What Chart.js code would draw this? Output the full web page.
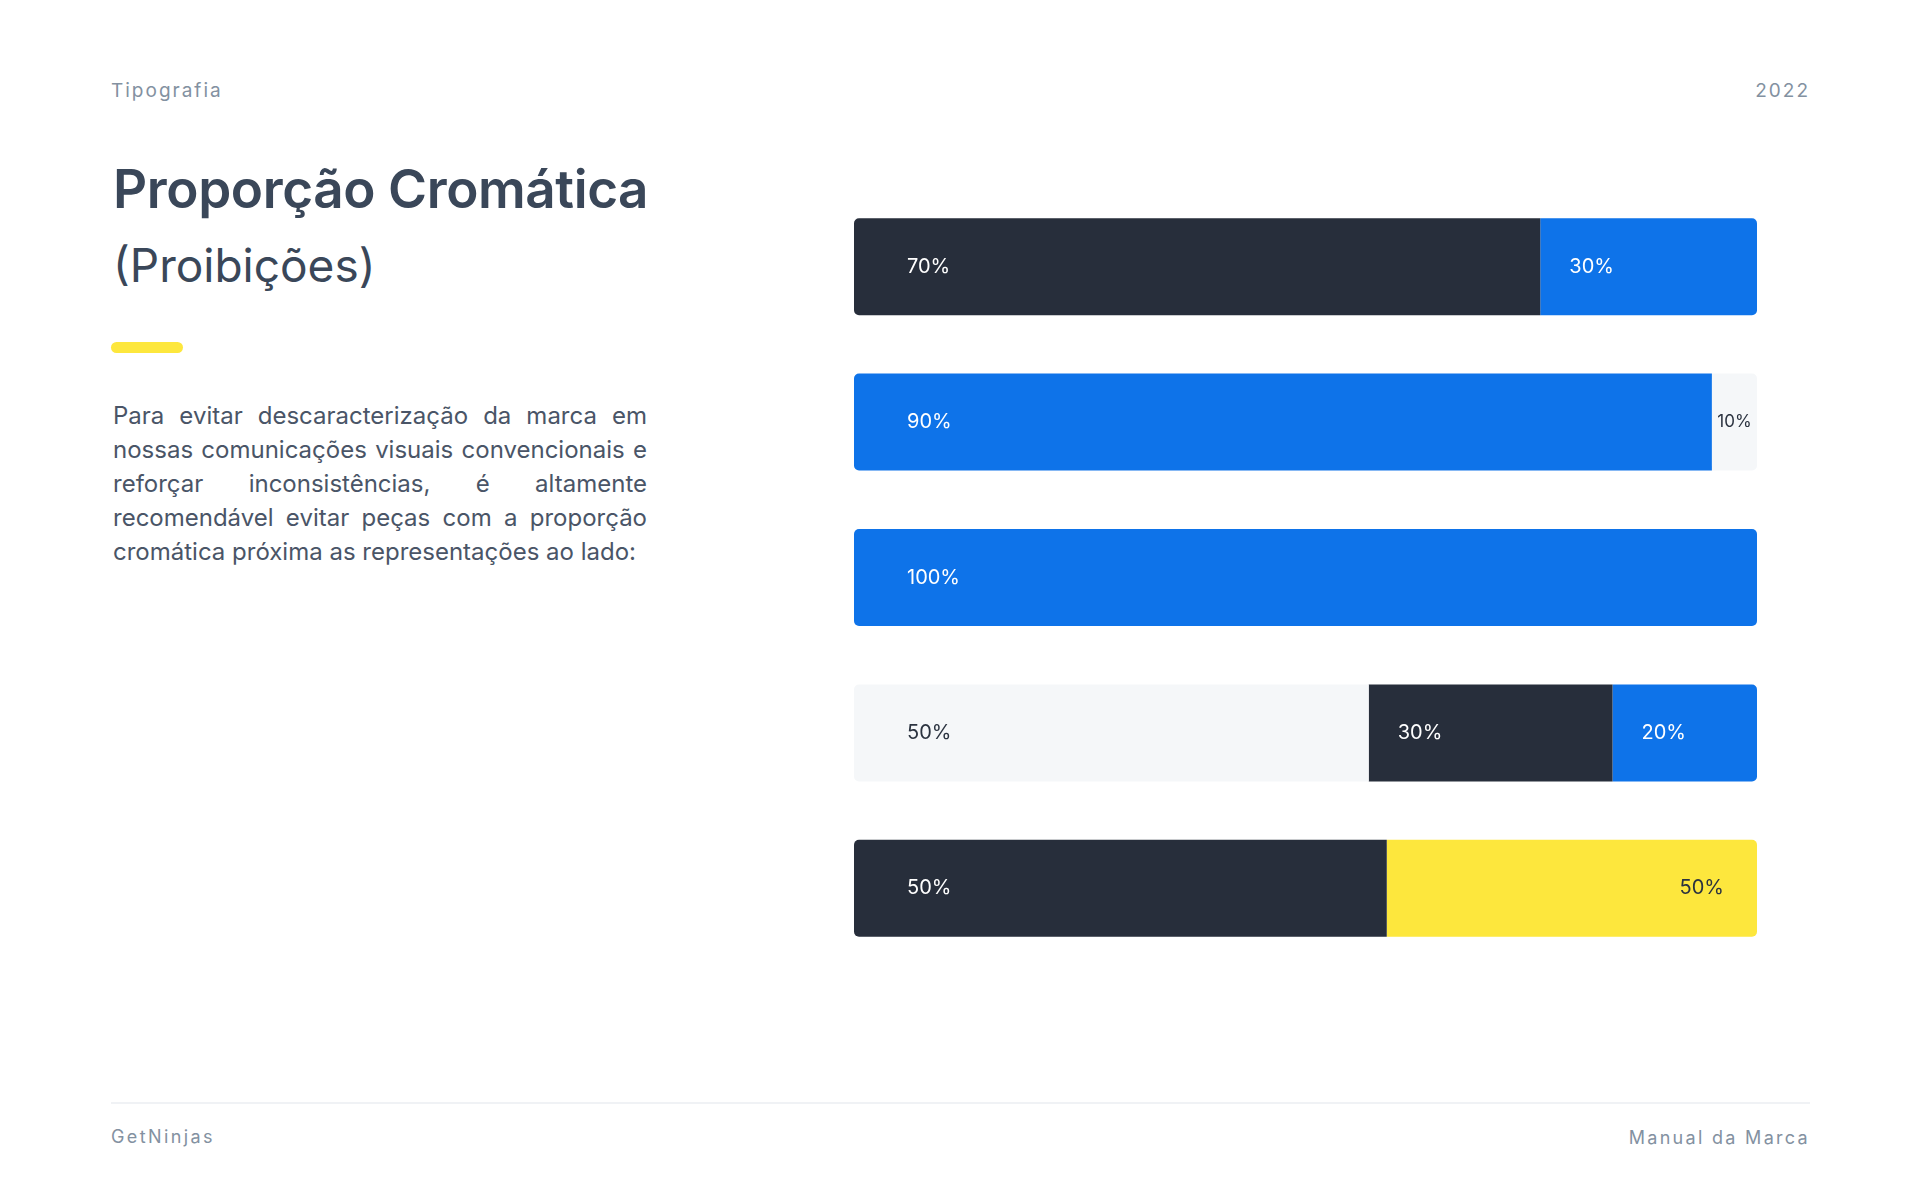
<!DOCTYPE html>
<html>
<head>
<meta charset="utf-8">
<script src="https://cdn.jsdelivr.net/npm/chart.js@4.4.1/dist/chart.umd.min.js"></script>
<style>
  html, body { margin: 0; padding: 0; background: #ffffff; }
  body { width: 1920px; height: 1200px; position: relative; overflow: hidden; font-family: Inter, "Noto Sans", sans-serif; }
  .abs { position: absolute; white-space: nowrap; }
  .meta { font-size: 19px; line-height: 1; color: #8391a1; letter-spacing: 2px; }
  #title { left: 113px; top: 163px; font-size: 53px; line-height: 1; font-weight: 600; color: #3a4759; letter-spacing: -0.4px; }
  #subtitle { left: 113px; top: 242px; font-size: 46px; line-height: 1; font-weight: 400; color: #3a4759; }
  #accent { left: 111px; top: 342px; width: 72px; height: 11px; border-radius: 6px; background: #fde73d; }
  #para { left: 113px; top: 399px; width: 534px; font-size: 24px; line-height: 34px; color: #4a5567; text-align: justify; white-space: normal; }
  #rule { left: 111px; top: 1102px; width: 1699px; height: 2px; background: #f0f2f5; }
  #chartBox { position: absolute; left: 854px; top: 189px; width: 903px; height: 777px; }
</style>
</head>
<body>
<div class="abs meta" style="left:111px; top:81px;">Tipografia</div>
<div class="abs meta" style="right:110px; top:81px;">2022</div>
<div class="abs" id="title">Proporção Cromática</div>
<div class="abs" id="subtitle">(Proibições)</div>
<div class="abs" id="accent"></div>
<div class="abs" id="para">Para evitar descaracterização da marca em nossas comunicações visuais convencionais e reforçar inconsistências, é altamente recomendável evitar peças com a proporção cromática próxima as representações ao lado:</div>
<div class="abs" id="rule"></div>
<div class="abs meta" style="left:111px; top:1128px; font-size:18px; letter-spacing:2.4px;">GetNinjas</div>
<div class="abs meta" style="right:110px; top:1129px; font-size:18px; letter-spacing:2.3px;">Manual da Marca</div>
<div id="chartBox"><canvas id="c"></canvas></div>
<script>
// ---- data (segment widths as drawn, and their printed labels) ----
const categories = ['Barra 1', 'Barra 2', 'Barra 3', 'Barra 4', 'Barra 5'];
const segment1 = [76, 95, 100, 57, 59];
const segment2 = [24, 5, 0, 27, 41];
const segment3 = [0, 0, 0, 16, 0];
const labels1 = ['70%', '90%', '100%', '50%', '50%'];
const labels2 = ['30%', '10%', '', '30%', '50%'];
const labels3 = ['', '', '', '20%', ''];

// ---- styles ----
const DARK = '#272e3b', BLUE = '#0e73e9', LIGHT = '#f5f7f9', YELLOW = '#fde73d';
const colors1 = [DARK, BLUE, BLUE, LIGHT, DARK];
const colors2 = [BLUE, LIGHT, BLUE, DARK, YELLOW];
const colors3 = [BLUE, BLUE, BLUE, BLUE, BLUE];
const textOn = c => (c === LIGHT || c === YELLOW) ? '#2b3340' : '#ffffff';

const segs = [segment1, segment2, segment3];
function radiusFor(ctx) {
  const i = ctx.dataIndex, d = ctx.datasetIndex;
  let first = -1, last = -1;
  segs.forEach((s, k) => { if (s[i] > 0) { if (first < 0) first = k; last = k; } });
  const r = 5;
  return {
    topLeft: d === first ? r : 0,
    bottomLeft: d === first ? r : 0,
    topRight: d === last ? r : 0,
    bottomRight: d === last ? r : 0
  };
}

const segLabels = {
  id: 'segLabels',
  afterDatasetsDraw(chart, args, opts) {
    const ctx = chart.ctx;
    ctx.save();
    ctx.textBaseline = 'middle';
    chart.data.datasets.forEach((ds, d) => {
      const meta = chart.getDatasetMeta(d);
      meta.data.forEach((el, i) => {
        const txt = ds.segLabels[i];
        if (!txt || !ds.data[i]) return;
        const left = Math.min(el.base, el.x), right = Math.max(el.base, el.x);
        const w = right - left;
        let size = opts.fontSize;
        ctx.font = '400 ' + size + 'px Inter, "Noto Sans", sans-serif';
        let tw = ctx.measureText(txt).width;
        if (tw > w - 10) {
          size = Math.floor(size * (w - 10) / tw);
          ctx.font = '400 ' + size + 'px Inter, "Noto Sans", sans-serif';
          tw = ctx.measureText(txt).width;
        }
        ctx.fillStyle = textOn(ds.backgroundColor[i]);
        const align = (opts.align[d] && opts.align[d][i]) || 'start';
        let x;
        if (align === 'end') { ctx.textAlign = 'right'; x = right - opts.endPad; }
        else if (w < tw + 2 * opts.innerPad) { ctx.textAlign = 'center'; x = left + w / 2; }
        else { ctx.textAlign = 'left'; x = left + (d === 0 ? opts.firstPad : opts.innerPad); }
        ctx.fillText(txt, x, el.y);
      });
    });
    ctx.restore();
  }
};

new Chart(document.getElementById('c'), {
  type: 'bar',
  data: {
    labels: categories,
    datasets: [
      { data: segment1, backgroundColor: colors1, segLabels: labels1 },
      { data: segment2, backgroundColor: colors2, segLabels: labels2 },
      { data: segment3, backgroundColor: colors3, segLabels: labels3 }
    ]
  },
  options: {
    indexAxis: 'y',
    responsive: true,
    maintainAspectRatio: false,
    animation: false,
    layout: { padding: 0 },
    datasets: {
      bar: {
        categoryPercentage: 1,
        barPercentage: 0.624,
        borderSkipped: false,
        borderWidth: 0,
        borderRadius: radiusFor
      }
    },
    scales: {
      x: { stacked: true, min: 0, max: 100, display: false },
      y: { stacked: true, display: false }
    },
    plugins: {
      legend: { display: false },
      tooltip: { enabled: false },
      segLabels: {
        fontSize: 20, firstPad: 53, innerPad: 29, endPad: 33,
        align: [[], ['start', 'start', 'start', 'start', 'end'], []]
      }
    }
  },
  plugins: [segLabels]
});
</script>
</body>
</html>
